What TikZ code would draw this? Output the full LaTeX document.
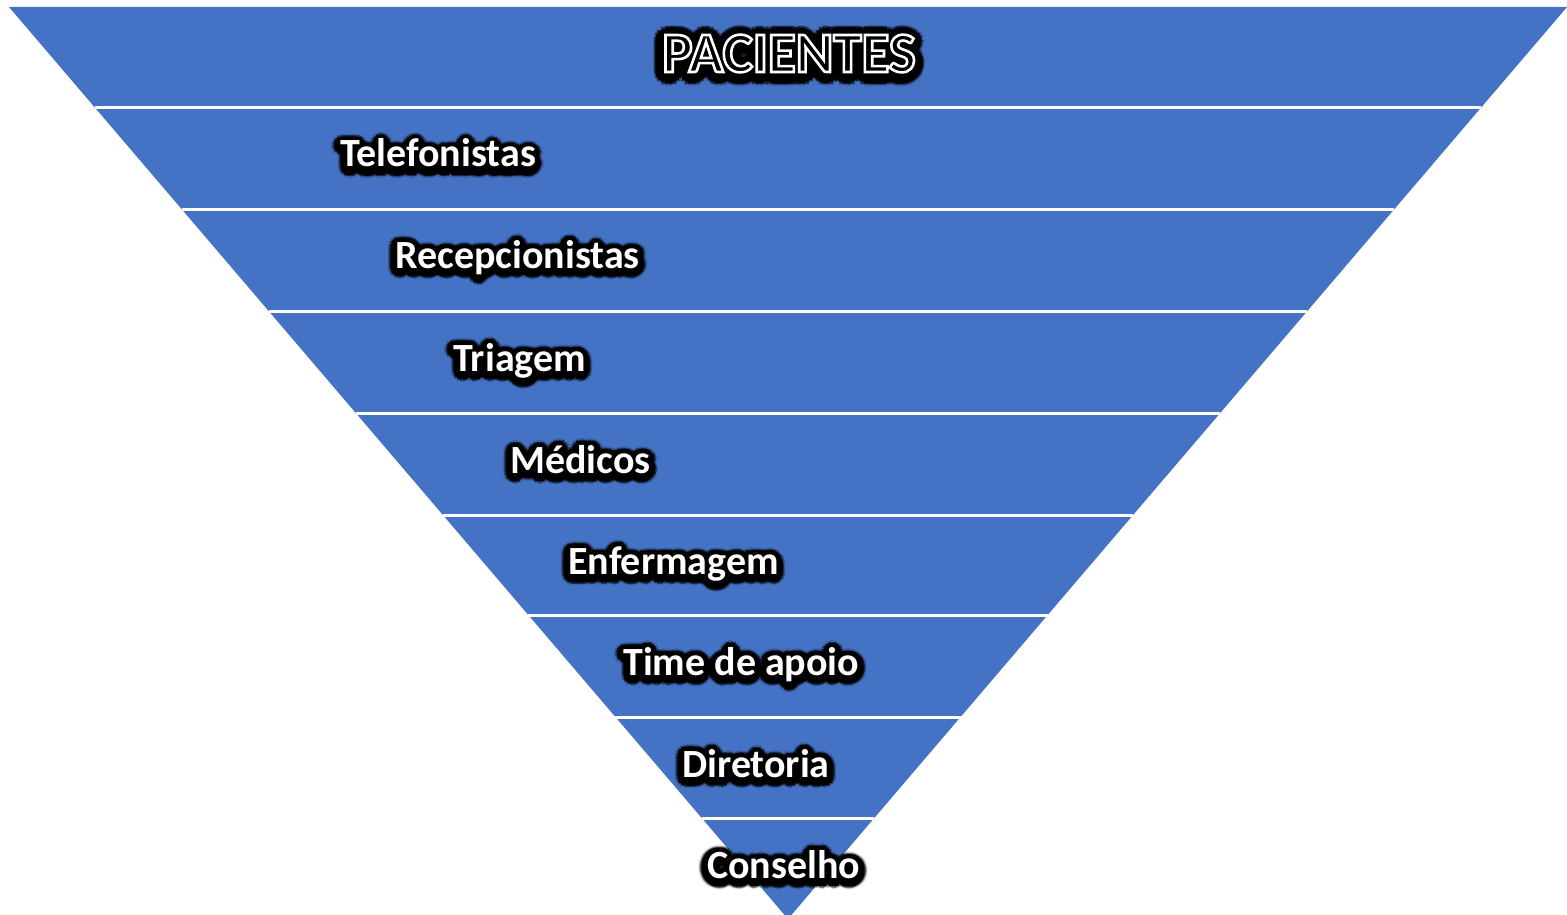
\documentclass[tikz,border=0pt]{standalone}
\usepackage{fontspec}
\setmainfont{Carlito}
\definecolor{bandblue}{RGB}{68,114,196}
\newcommand\outlined[1]{\special{pdf:literal direct 1 Tr 2.6 w 1 1 1 RG}#1\special{pdf:literal direct 0 Tr}}
\newcommand\glowrings{9/0.15,7.5/0.4,6/1,4.5/1,3/1,1.5/1}
\tikzset{
  band label/.style={inner sep=0pt, text=white, font=\bfseries\fontsize{40}{40}\selectfont},
  glow/.style={text=black, text opacity=#1},
}
\newcommand\glowlabel[5][]{%
  \foreach \rad/\op in \glowrings
    \foreach \ang in {0,22.5,...,337.5}
      \node[band label,#5,glow=\op] at ([shift={(\ang:\rad)},yshift=-2.5pt]#3) {#4};
  \node[band label,#5] (#2) at (#3) {#1{#4}};
}

\begin{document}
\begin{tikzpicture}[x=1pt,y=-1pt]
  \useasboundingbox (0,0) rectangle (1567,915);
  \fill[bandblue] (9,7) -- (1567,7) -- (788,919) -- cycle;
  \foreach \yy in {108,209,311,413,515,615,717,818}
    \draw[white,line width=3pt] ({788-0.8542*(919-\yy)},\yy) -- ({788+0.8542*(919-\yy)},\yy);

  {\renewcommand\glowrings{12/0.15,10.5/0.5,9/1,7.5/1,6/1,4.5/1,3/1,1.5/1}
  \glowlabel[\outlined]{pacientes}{789,72}{PACIENTES}{anchor=base,font=\bfseries\fontsize{57}{57}\selectfont}}
  \glowlabel{telefonistas}{340,167}{Telefonistas}{anchor=base west}
  \glowlabel{recepcionistas}{395,268}{Recepcionistas}{anchor=base west}
  \glowlabel{triagem}{453,371}{Triagem}{anchor=base west}
  \glowlabel{medicos}{510,473}{Médicos}{anchor=base west}
  \glowlabel{enfermagem}{568,574}{Enfermagem}{anchor=base west}
  \glowlabel{timeapoio}{623,675}{Time de apoio}{anchor=base west}
  \glowlabel{diretoria}{682,777}{Diretoria}{anchor=base west}
  \glowlabel{conselho}{707,878}{Conselho}{anchor=base west}
\end{tikzpicture}
\end{document}
